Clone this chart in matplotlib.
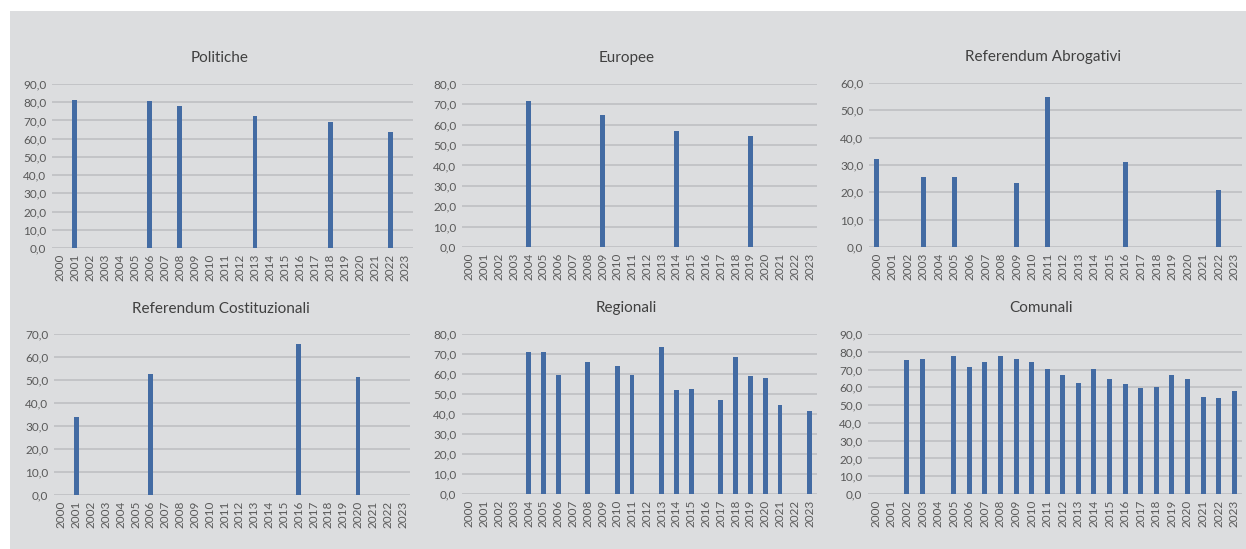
import matplotlib.pyplot as plt
from matplotlib.patches import Rectangle
from matplotlib.ticker import FuncFormatter

plt.rcParams['font.family'] = ['Lato', 'DejaVu Sans']

years = [str(y) for y in range(2000, 2024)]

politiche = {2001: 81.4, 2006: 80.7, 2008: 78.1, 2013: 72.2, 2018: 69.3, 2022: 63.9}
europee = {2004: 71.9, 2009: 65.0, 2014: 56.8, 2019: 54.5}
ref_abrogativi = {2000: 32.2, 2003: 25.7, 2005: 25.7, 2009: 23.3, 2011: 54.8, 2016: 31.2, 2022: 20.9}
ref_costituzionali = {2001: 34.1, 2006: 52.5, 2016: 65.5, 2020: 51.1}
regionali = {2004: 71.0, 2005: 71.0, 2006: 59.4, 2008: 65.9, 2010: 64.0, 2011: 59.4, 2013: 73.6,
             2014: 51.9, 2015: 52.4, 2017: 46.8, 2018: 68.5, 2019: 58.9, 2020: 58.2, 2021: 44.3,
             2023: 41.7}
comunali = {2002: 75.5, 2003: 76.2, 2005: 77.7, 2006: 71.2, 2007: 74.1, 2008: 77.7, 2009: 76.2,
            2010: 74.1, 2011: 70.4, 2012: 66.8, 2013: 62.4, 2014: 70.4, 2015: 64.6, 2016: 61.8,
            2017: 59.5, 2018: 60.3, 2019: 66.8, 2020: 64.6, 2021: 54.5, 2022: 53.9, 2023: 58.0}

# (title, data, ymax, axes rect in pixels [x0, x1, ytop, ybottom], title pos in pixels)
panels = [
    ('Politiche', politiche, 90, (52, 413, 84, 248), (220, 58)),
    ('Europee', europee, 80, (462, 817, 84, 247), (627, 58)),
    ('Referendum Abrogativi', ref_abrogativi, 60, (869, 1242, 83, 247), (1043, 57)),
    ('Referendum Costituzionali', ref_costituzionali, 70, (54, 410, 334, 495), (221, 309)),
    ('Regionali', regionali, 80, (462, 817, 334, 494), (626, 308)),
    ('Comunali', comunali, 90, (868, 1242, 334, 494), (1041, 308)),
]

W, H = 1246, 549
bg = '#dcdddf'
bar_color = '#436ba3'
grid_color = '#bfc0c3'
text_color = '#595959'

fig = plt.figure(figsize=(W / 100, H / 100), dpi=100)
fig.patch.set_facecolor('white')
fig.patches.append(Rectangle((10 / W, 0), 1, 1 - 11 / H, transform=fig.transFigure,
                             facecolor=bg, edgecolor='none', zorder=-10))

fmt = FuncFormatter(lambda v, p: f'{v:.1f}'.replace('.', ','))

for title, data, ymax, (x0, x1, yt, yb), (tx, ty) in panels:
    ax = fig.add_axes([x0 / W, 1 - yb / H, (x1 - x0) / W, (yb - yt) / H])
    ax.set_facecolor('none')
    vals = [data.get(int(y), 0) for y in years]
    ax.bar(range(len(years)), vals, width=0.32, color=bar_color, zorder=3)
    ax.set_xlim(-0.5, len(years) - 0.5)
    ax.set_ylim(0, ymax)
    ax.set_yticks(range(0, ymax + 1, 10))
    ax.yaxis.set_major_formatter(fmt)
    ax.set_xticks(range(len(years)))
    ax.set_xticklabels(years, rotation=90)
    ax.grid(axis='y', color=grid_color, linewidth=1.2, zorder=0)
    for s in ax.spines.values():
        s.set_visible(False)
    ax.tick_params(length=0, labelsize=8.5, colors=text_color, pad=4)
    fig.text(tx / W, 1 - ty / H, title, ha='center', va='center', fontsize=11, color='#404040')

fig.savefig('out.png', dpi=100, facecolor=fig.get_facecolor())
